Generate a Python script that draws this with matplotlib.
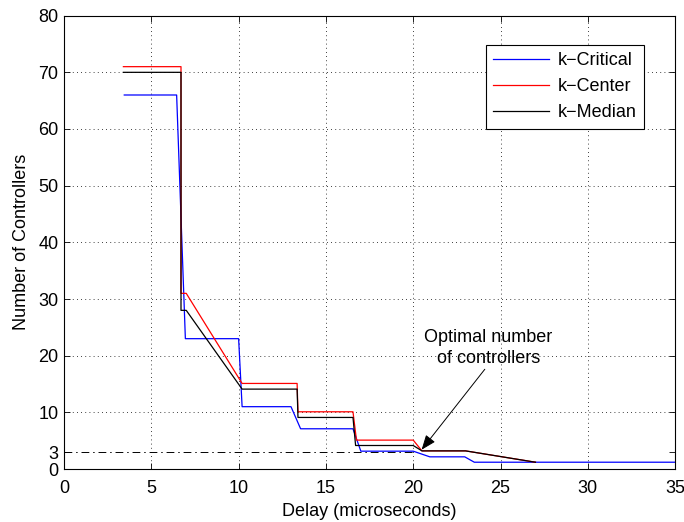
import matplotlib
matplotlib.use("Agg")
from matplotlib import pyplot as plt

plt.rcParams['font.family'] = ['Liberation Sans', 'DejaVu Sans']

# k-Critical
crit_x = [3.45, 6.45, 6.95, 10.0, 10.2, 13.0, 13.55, 16.55, 17.0, 20.0, 20.95, 22.95, 23.5, 35]
crit_y = [66, 66, 23, 23, 11, 11, 7.1, 7.1, 3.15, 3.15, 2.15, 2.15, 1.2, 1.2]

# k-Center
cent_x = [3.4, 6.7, 6.7, 7.0, 10.2, 13.35, 13.4, 16.55, 16.75, 20.0, 20.5, 23.0, 27.0]
cent_y = [71, 71, 31, 31, 15.1, 15.1, 10.1, 10.1, 5.1, 5.1, 3.2, 3.2, 1.2]

# k-Median
med_x = [3.4, 6.7, 6.7, 7.0, 10.2, 13.35, 13.4, 16.55, 16.7, 20.0, 20.5, 23.0, 27.0]
med_y = [70, 70, 28, 28, 14.1, 14.1, 9.1, 9.1, 4.15, 4.15, 3.2, 3.2, 1.2]

optimal = 3
x_ticks = [0, 5, 10, 15, 20, 25, 30, 35]
y_ticks = [0, 3, 10, 20, 30, 40, 50, 60, 70, 80]

fs = 13
fig = plt.figure(figsize=(6.84, 5.22), dpi=100)
ax = fig.add_axes([0.0936, 0.1015, 0.8934, 0.8685])

ax.plot(crit_x, crit_y, color='b', lw=0.9, label='k\u2212Critical')
ax.plot(cent_x, cent_y, color='r', lw=0.9, label='k\u2212Center')
ax.plot(med_x, med_y, color='k', lw=0.9, label='k\u2212Median')
ax.plot([0, 20], [optimal, optimal], color='k', lw=0.7, linestyle=(0, (8, 4, 1.5, 4)))

ax.set_xlim(0, 35)
ax.set_ylim(0, 80)
ax.set_xticks(x_ticks)
ax.set_yticks(y_ticks)
ax.tick_params(direction='in', top=True, right=True, labelsize=fs, length=4, width=0.6)
ax.tick_params(axis='x', pad=8)
ax.tick_params(axis='y', pad=4)
ax.grid(True, color='k', linestyle=(0, (1, 4)), lw=0.6)
ax.get_ygridlines()[1].set_visible(False)
for s in ax.spines.values():
    s.set_linewidth(0.8)

ax.set_xlabel('Delay (microseconds)', fontsize=fs, labelpad=4)
ax.set_ylabel('Number of Controllers', fontsize=fs, labelpad=6)

ax.text(24.3, 21.3, 'Optimal number\nof controllers', ha='center', va='center',
        fontsize=fs, linespacing=1.3)
ax.annotate('', xy=(20.48, 3.4), xytext=(24.1, 17.6),
            arrowprops=dict(arrowstyle='-|>,head_length=0.9,head_width=0.35', color='k',
                            lw=0.7, shrinkA=0, shrinkB=0))

leg = ax.legend(loc='upper right', bbox_to_anchor=(0.949, 0.935), fontsize=fs,
                fancybox=False, framealpha=1, edgecolor='k', handlelength=3.1,
                borderpad=0.4, labelspacing=0.5, borderaxespad=0, handletextpad=0.5)
leg.get_frame().set_linewidth(0.8)

fig.savefig('out.png', dpi=100)
